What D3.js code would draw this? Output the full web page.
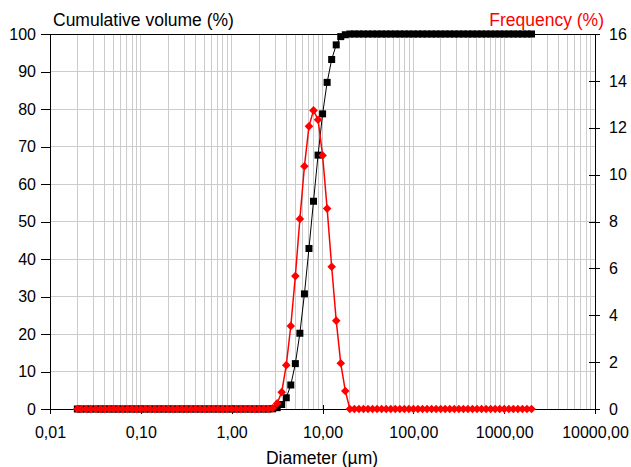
<!DOCTYPE html>
<html>
<head>
<meta charset="utf-8">
<script src="https://cdn.jsdelivr.net/npm/d3@7/dist/d3.min.js"></script>
<style>
  body { margin: 0; background: #fff; }
  text { font-family: "Liberation Sans", Arial, sans-serif; }
</style>
</head>
<body>
<div id="chart"></div>
<script>
// particle size classes (µm)
const sizes = [
  0.020, 0.022, 0.025, 0.028, 0.032, 0.036, 0.040, 0.045, 0.050, 0.056,
  0.063, 0.071, 0.080, 0.089, 0.100, 0.112, 0.126, 0.142, 0.159, 0.178,
  0.200, 0.224, 0.252, 0.283, 0.317, 0.356, 0.399, 0.448, 0.502, 0.564,
  0.632, 0.710, 0.796, 0.893, 1.002, 1.125, 1.262, 1.416, 1.589, 1.783,
  2.000, 2.244, 2.518, 2.825, 3.170, 3.557, 3.991, 4.477, 5.024, 5.637,
  6.325, 7.096, 7.962, 8.934, 10.024, 11.247, 12.619, 14.159, 15.887, 17.825,
  20.000, 22.440, 25.179, 28.251, 31.698, 35.566, 39.905, 44.774, 50.238, 56.368,
  63.246, 70.963, 79.621, 89.337, 100.237, 112.468, 126.191, 141.589, 158.866, 178.250,
  200.000, 224.404, 251.785, 282.508, 316.979, 355.656, 399.052, 447.744, 502.377, 563.677,
  632.456, 709.627, 796.214, 893.367, 1002.374, 1124.683, 1261.915, 1415.892, 1588.656, 1782.502,
  2000.000
];

// cumulative volume (%), left axis
const cumulative = [
  0, 0, 0, 0, 0, 0, 0, 0, 0, 0,
  0, 0, 0, 0, 0, 0, 0, 0, 0, 0,
  0, 0, 0, 0, 0, 0, 0, 0, 0, 0,
  0, 0, 0, 0, 0, 0, 0, 0, 0, 0,
  0, 0, 0, 0.05, 0.35, 1.2, 3.0, 6.4, 12.1, 20.2,
  30.7, 42.8, 55.4, 67.7, 78.7, 87.1, 93.2, 97.1, 99.3, 99.8,
  100, 100, 100, 100, 100, 100, 100, 100, 100, 100,
  100, 100, 100, 100, 100, 100, 100, 100, 100, 100,
  100, 100, 100, 100, 100, 100, 100, 100, 100, 100,
  100, 100, 100, 100, 100, 100, 100, 100, 100, 100,
  100
];

// frequency (%), right axis
const frequency = [
  0, 0, 0, 0, 0, 0, 0, 0, 0, 0,
  0, 0, 0, 0, 0, 0, 0, 0, 0, 0,
  0, 0, 0, 0, 0, 0, 0, 0, 0, 0,
  0, 0, 0, 0, 0, 0, 0, 0, 0, 0,
  0, 0, 0, 0.03, 0.24, 0.72, 1.87, 3.54, 5.67, 8.11,
  10.36, 12.06, 12.74, 12.34, 10.82, 8.55, 6.07, 3.77, 1.95, 0.77,
  0, 0, 0, 0, 0, 0, 0, 0, 0, 0,
  0, 0, 0, 0, 0, 0, 0, 0, 0, 0,
  0, 0, 0, 0, 0, 0, 0, 0, 0, 0,
  0, 0, 0, 0, 0, 0, 0, 0, 0, 0,
  0
];

const xTicks = [0.01, 0.1, 1, 10, 100, 1000, 10000];
const xTickLabels = ["0,01", "0,10", "1,00", "10,00", "100,00", "1000,00", "10000,00"];
const leftTicks = [0, 10, 20, 30, 40, 50, 60, 70, 80, 90, 100];
const rightTicks = [0, 2, 4, 6, 8, 10, 12, 14, 16];

const WIDTH = 631, HEIGHT = 467;
const plot = { left: 50, right: 595, top: 34, bottom: 409 };

const svg = d3.select("#chart").append("svg")
  .attr("width", WIDTH).attr("height", HEIGHT);

const x = d3.scaleLog().domain([0.01, 10000]).range([plot.left, plot.right]);
const yL = d3.scaleLinear().domain([0, 100]).range([plot.bottom, plot.top]);
const yR = d3.scaleLinear().domain([0, 16]).range([plot.bottom, plot.top]);

// grid: vertical lines at 1..9 of every decade, horizontal at the left ticks
let vGrid = [];
for (let d = 0.01; d < 10000; d *= 10) {
  for (let k = 1; k <= 9; k++) vGrid.push(d * k);
}
const grid = svg.append("g").attr("stroke", "#cccccc").attr("shape-rendering", "crispEdges");
grid.selectAll(".vg").data(vGrid.slice(1)).enter().append("line")
  .attr("x1", d => x(d)).attr("x2", d => x(d))
  .attr("y1", plot.top).attr("y2", plot.bottom);
grid.selectAll(".hg").data(leftTicks.slice(1, -1)).enter().append("line")
  .attr("x1", plot.left).attr("x2", plot.right)
  .attr("y1", d => yL(d)).attr("y2", d => yL(d));

// frame top line
svg.append("line").attr("x1", plot.left).attr("x2", plot.right)
  .attr("y1", plot.top).attr("y2", plot.top)
  .attr("stroke", "#000").attr("shape-rendering", "crispEdges");

// axes
function styleAxis(g) {
  g.selectAll("text").attr("font-size", "16px").attr("fill", "#000")
    .attr("font-family", "'Liberation Sans', Arial, sans-serif");
  g.selectAll("line, path").attr("stroke", "#000").attr("shape-rendering", "crispEdges");
}

const xAxis = svg.append("g")
  .attr("transform", "translate(0," + plot.bottom + ")")
  .call(d3.axisBottom(x).tickValues(xTicks).tickFormat((d, i) => xTickLabels[i])
    .tickSize(5).tickSizeOuter(0).tickPadding(13))
  .call(styleAxis);
xAxis.selectAll(".tick line").attr("y1", -4);

svg.append("g")
  .attr("transform", "translate(" + plot.left + ",0)")
  .call(d3.axisLeft(yL).tickValues(leftTicks).tickFormat(d3.format("d"))
    .tickSize(9).tickSizeOuter(0).tickPadding(5))
  .call(styleAxis);

const rAxis = svg.append("g")
  .attr("transform", "translate(" + plot.right + ",0)")
  .call(d3.axisRight(yR).tickValues(rightTicks).tickFormat(d3.format("d"))
    .tickSize(5).tickSizeOuter(0).tickPadding(9))
  .call(styleAxis);
rAxis.selectAll(".tick line").attr("x1", -6);

// cumulative series
const lineL = d3.line().x((d, i) => x(sizes[i])).y(d => yL(d));
svg.append("path").datum(cumulative)
  .attr("d", lineL).attr("fill", "none").attr("stroke", "#000").attr("stroke-width", 1);
svg.append("g").selectAll("rect").data(cumulative).enter().append("rect")
  .attr("x", (d, i) => x(sizes[i]) - 3.5).attr("y", d => yL(d) - 3.5)
  .attr("width", 7).attr("height", 7).attr("fill", "#000");

// frequency series
const lineR = d3.line().x((d, i) => x(sizes[i])).y(d => yR(d));
svg.append("path").datum(frequency)
  .attr("d", lineR).attr("fill", "none").attr("stroke", "#ff0000").attr("stroke-width", 1.5);
const r = 4.3;
svg.append("g").selectAll("path").data(frequency).enter().append("path")
  .attr("transform", (d, i) => "translate(" + x(sizes[i]) + "," + yR(d) + ")")
  .attr("d", "M0," + (-r) + "L" + r + ",0L0," + r + "L" + (-r) + ",0Z")
  .attr("fill", "#ff0000");

// titles
svg.append("text").attr("x", 53).attr("y", 26)
  .attr("font-size", "17.5px").attr("fill", "#000").text("Cumulative volume (%)");
svg.append("text").attr("x", 604).attr("y", 26).attr("text-anchor", "end")
  .attr("font-size", "17.5px").attr("fill", "#ff0000").text("Frequency (%)");
svg.append("text").attr("x", 322).attr("y", 464).attr("text-anchor", "middle")
  .attr("font-size", "17.5px").attr("fill", "#000").text("Diameter (µm)");
</script>
</body>
</html>
